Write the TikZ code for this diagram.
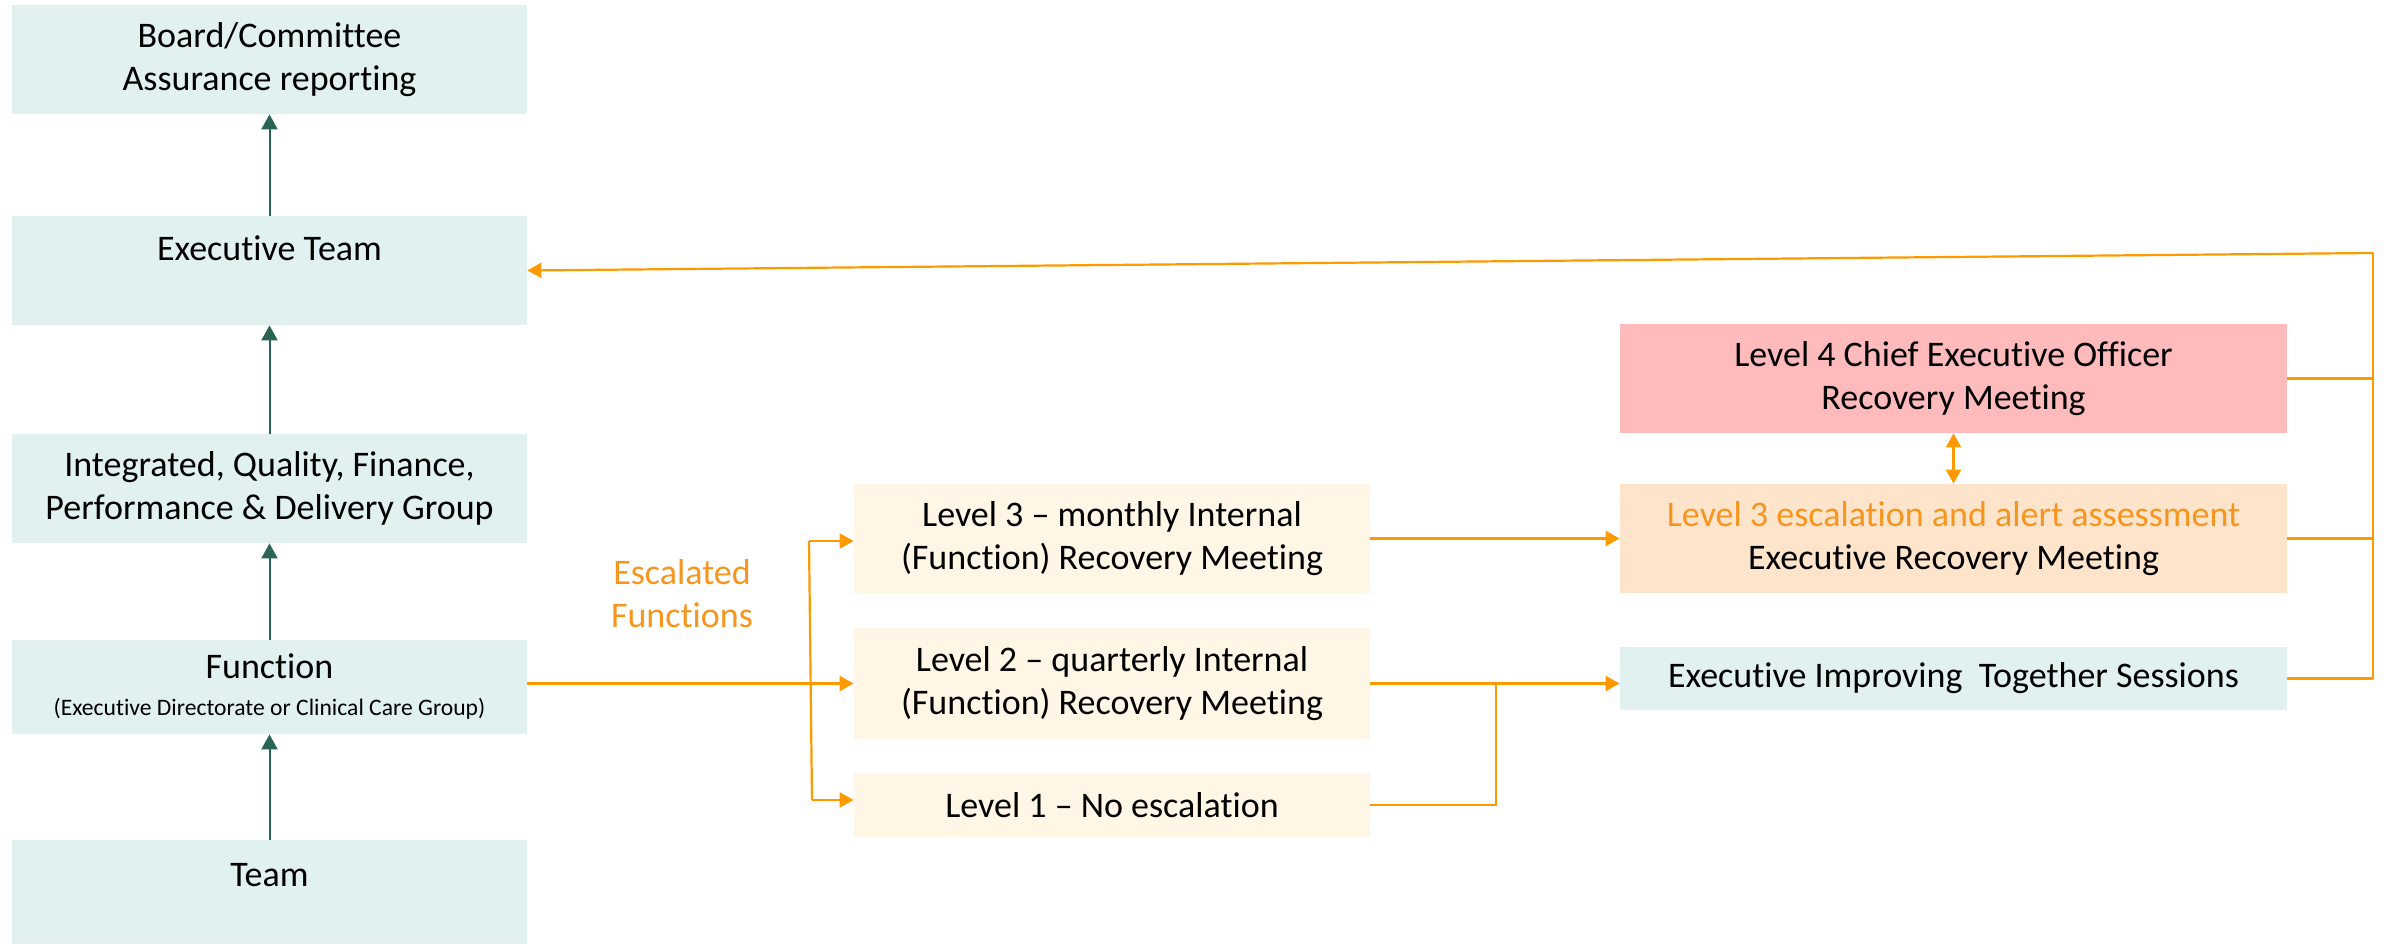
\documentclass[tikz,border=0pt]{standalone}
\usepackage{fontspec}
\setmainfont[Ligatures={NoCommon,NoContextual}]{Carlito}
\usetikzlibrary{arrows.meta,calc}
\definecolor{tealfill}{RGB}{224,241,239}
\definecolor{creamfill}{RGB}{255,246,230}
\definecolor{peachfill}{RGB}{255,228,204}
\definecolor{pinkfill}{RGB}{255,187,187}
\definecolor{darkgreen}{RGB}{42,100,84}
\definecolor{orangeline}{RGB}{255,153,0}
\definecolor{orangetext}{RGB}{247,150,30}
\tikzset{
  box/.style={rectangle, inner sep=0pt, align=center, font=\fontsize{18}{21.5}\selectfont, text=black},
  leftbox/.style={box, fill=tealfill, minimum width=257.5pt},
  midbox/.style={box, fill=creamfill, minimum width=258pt},
  rightbox/.style={box, minimum width=333.5pt},
  txt/.style={inner sep=0pt, align=center, font=\fontsize{18}{21.5}\selectfont},
  garrow/.style={draw=darkgreen, line width=1pt, -{Triangle[length=7.5pt,width=8pt]}},
  oline/.style={draw=orangeline, line width=1.1pt},
  oarrow/.style={oline, -{Triangle[length=7pt,width=7.5pt]}},
  odarrow/.style={oline, {Triangle[length=7pt,width=7.5pt]}-{Triangle[length=7pt,width=7.5pt]}},
}
\begin{document}
\begin{tikzpicture}[x=0.5pt,y=-0.5pt]
\useasboundingbox (0,0) rectangle (2387,946);
% left column
\node[leftbox, minimum height=54.5pt] (board) at (269.5,59.5) {Board/Committee\\Assurance reporting};
\node[leftbox, minimum height=54.5pt] (exec) at (269.5,270.5) {};
\node[txt] (exectxt) at (269.5,248) {Executive Team};
\node[leftbox, minimum height=54.5pt] (integ) at (269.5,488.5) {Integrated, Quality, Finance,\\Performance \& Delivery Group};
\node[leftbox, minimum height=47pt] (func) at (269.5,687) {Function\\[-3pt]{\fontsize{11.8}{13}\selectfont (Executive Directorate or Clinical Care Group)}};
\node[leftbox, minimum height=52pt] (team) at (269.5,892) {};
\node[txt] (teamtxt) at (269.5,875) {Team};
% middle column
\node[midbox, minimum height=54.5pt] (lthree) at (1112,538.5) {Level 3 -- monthly Internal\\(Function) Recovery Meeting};
\node[midbox, minimum height=55.5pt] (ltwo) at (1112,683.5) {Level 2 -- quarterly Internal\\(Function) Recovery Meeting};
\node[midbox, minimum height=32pt] (lone) at (1112,805) {Level 1 -- No escalation};
\node[txt, text=orangetext] (esc) at (682,594) {Escalated\\Functions};
% right column
\node[rightbox, fill=pinkfill, minimum height=54.5pt] (lfour) at (1953.5,378.5) {Level 4 Chief Executive Officer\\Recovery Meeting};
\node[rightbox, fill=peachfill, minimum height=54.5pt] (lthreee) at (1953.5,538.5) {\textcolor{orangetext}{Level 3 escalation and alert assessment}\\Executive Recovery Meeting};
\node[rightbox, fill=tealfill, minimum height=31.5pt] (imp) at (1953.5,678.5) {Executive Improving~ Together Sessions};
% green arrows
\draw[garrow] (exec.north) -- (board.south);
\draw[garrow] (integ.north) -- (exec.south);
\draw[garrow] (func.north) -- (integ.south);
\draw[garrow] (team.north) -- (func.south);
% escalation split
\coordinate (vt) at (809,541);
\coordinate (vm) at (810,683.5);
\coordinate (vb) at (812,800);
\draw[oarrow] (func.east |- vm) -- (vm -| ltwo.west);
\draw[oline] (vt) -- (vb);
\draw[oarrow] (vt) -- (vt -| lthree.west);
\draw[oarrow] (vb) -- (vb -| lone.west);
% to executive meetings
\draw[oarrow] (lthree.east) -- (lthree.east -| lthreee.west);
\draw[oarrow] (ltwo.east) -- (ltwo.east -| imp.west);
\coordinate (j) at (1496,683.5);
\draw[oline] (lone.east) -| (j);
\draw[odarrow] (lfour.south) -- (lthreee.north);
% feedback to executive team
\coordinate (rt) at (2373,253);
\coordinate (rb) at (2373,678.5);
\draw[oline] (rb) -- (rt);
\draw[oline] (lfour.east) -- (lfour.east -| rt);
\draw[oline] (lthreee.east) -- (lthreee.east -| rt);
\draw[oline] (imp.east) -- (rb);
\draw[oarrow] (rt) -- (exec.east);
\end{tikzpicture}
\end{document}
